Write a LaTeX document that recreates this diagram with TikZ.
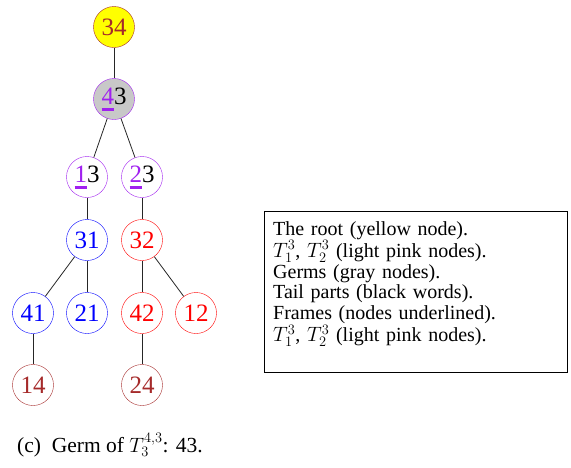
\documentclass[tikz,border=0pt]{standalone}
\usepackage[no-math]{fontspec}
\setmainfont{Liberation Serif}
\usepackage{tikz}
\usetikzlibrary{positioning, calc}
\usepackage{xcolor}
\definecolor{germroot}{HTML}{FFFF00}
\definecolor{germbrown}{HTML}{A52A2A}
\definecolor{germpurple}{HTML}{A020F0}
\definecolor{germgray}{HTML}{C8C8C8}
\definecolor{germblue}{HTML}{0000FF}
\definecolor{germred}{HTML}{FF0000}

\newcommand{\frameul}[1]{\textcolor{germpurple}{\setbox0\hbox{#1}%
  \rlap{\rule[-6.5pt]{\wd0}{2.8pt}}\box0}}

\begin{document}
\begin{tikzpicture}[x=1pt, y=-1pt,
    word/.style={circle, draw, thin, minimum size=41pt, inner sep=0pt,
      font=\fontsize{25}{28}\selectfont},
    rootword/.style={word, draw=germbrown, fill=germroot, text=germbrown},
    germword/.style={word, draw=germpurple, fill=germgray},
    frameword/.style={word, draw=germpurple, fill=white},
    blueword/.style={word, draw=germblue, text=germblue},
    redword/.style={word, draw=germred, text=germred},
    brownword/.style={word, draw=germbrown, text=germbrown},
    edge/.style={draw=black!85, line width=0.8pt},
    legendtext/.style={anchor=north west, inner sep=0pt, text width=284pt,
      align=left, font=\fontsize{20}{20.8}\selectfont}]
  \useasboundingbox (0,0) rectangle (571,467);

  % Root and germ
  \node[rootword] (w34) at (114,27) {34};
  \node[germword] (w43) at (114,99) {\frameul{4}3};

  % Frames
  \node[frameword] (w13) at (87,177) {\frameul{1}3};
  \node[frameword] (w23) at (142,177) {\frameul{2}3};

  % Left subtree T_1^3
  \node[blueword] (w31) at (87,240) {31};
  \node[blueword] (w41) at (33,313) {41};
  \node[blueword] (w21) at (87,313) {21};
  \node[brownword] (w14) at (33,385) {14};

  % Right subtree T_2^3
  \node[redword] (w32) at (142,240) {32};
  \node[redword] (w42) at (142,313) {42};
  \node[redword] (w12) at (196,313) {12};
  \node[brownword] (w24) at (142,385) {24};

  % Edges
  \draw[edge] (w34) -- (w43);
  \draw[edge] (w43) -- (w13);
  \draw[edge] (w43) -- (w23);
  \draw[edge] (w13) -- (w31);
  \draw[edge] (w23) -- (w32);
  \draw[edge] (w31) -- (w41);
  \draw[edge] (w31) -- (w21);
  \draw[edge] (w32) -- (w42);
  \draw[edge] (w32) -- (w12);
  \draw[edge] (w41) -- (w14);
  \draw[edge] (w42) -- (w24);

  % Legend
  \draw[thin] (264,211) rectangle (567,372);
  \node[legendtext] (legend) at (273,221) {%
    The root (yellow node).\\
    $T^3_1$, $T^3_2$ (light pink nodes).\\
    Germs (gray nodes).\\
    Tail parts (black words).\\
    Frames (nodes underlined).\\
    $T^3_1$, $T^3_2$ (light pink nodes).};

  % Caption
  \node[anchor=west, inner sep=0pt, font=\fontsize{21.5}{24}\selectfont] (caption)
    at (17,445) {(c)\enspace Germ of $T^{4,3}_3$: 43.};
\end{tikzpicture}
\end{document}
